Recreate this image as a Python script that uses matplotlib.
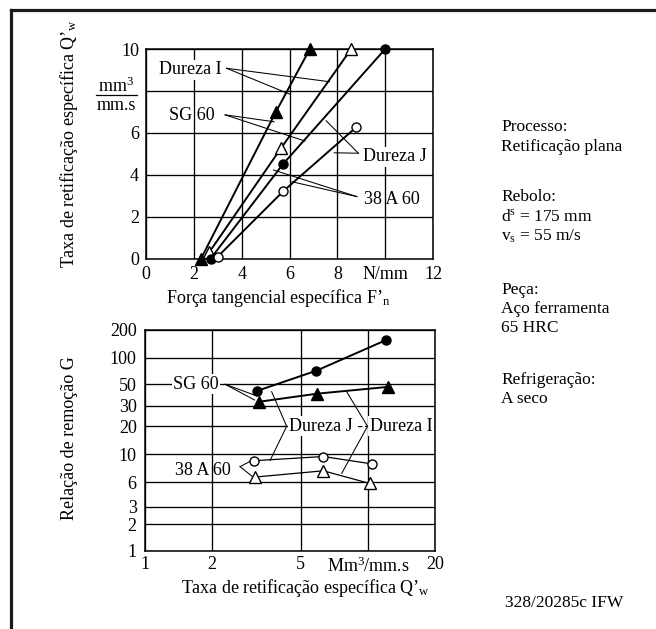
import numpy as np
import matplotlib
matplotlib.use("Agg")
import matplotlib.pyplot as plt
from matplotlib.lines import Line2D

plt.rcParams['font.family'] = ['Liberation Serif', 'DejaVu Serif']
plt.rcParams['mathtext.fontset'] = 'custom'
plt.rcParams['mathtext.rm'] = 'Liberation Serif'
plt.rcParams['mathtext.it'] = 'Liberation Serif:italic'
plt.rcParams['font.size'] = 13

# ---------------- data: top chart (Q'w vs F'n) ----------------
sg_I_F = [2.3, 5.43, 6.85]      # SG 60, Dureza I (filled triangles)
sg_I_Q = [0.0, 7.0, 10.0]
a38_I_F = [2.64, 5.65, 8.58]    # 38 A 60, Dureza I (open triangles)
a38_I_Q = [0.3, 5.28, 10.0]
sg_J_F = [2.7, 5.72, 10.0]      # SG 60, Dureza J (filled circles)
sg_J_Q = [0.0, 4.5, 10.0]
a38_J_F = [3.0, 5.74, 8.8]      # 38 A 60, Dureza J (open circles)
a38_J_Q = [0.1, 3.22, 6.28]

top_xticks = [0, 2, 4, 6, 8, 10, 12]
top_xlabels = ['0', '2', '4', '6', '8', 'N/mm', '12']
top_yticks = [0, 2, 4, 6, 8, 10]
top_ylabels = ['0', '2', '4', '6', '', '10']

# ---------------- data: bottom chart (G vs Q'w) ----------------
b_sg_J_Q = [3.17, 5.85, 12.1]   # SG 60, Dureza J (filled circles)
b_sg_J_G = [42.6, 71, 156]
b_sg_I_Q = [3.26, 5.93, 12.3]   # SG 60, Dureza I (filled triangles)
b_sg_I_G = [33, 40, 47]
b_a38_J_Q = [3.08, 6.31, 10.4]  # 38 A 60, Dureza J (open circles)
b_a38_J_G = [8.9, 9.6, 8.4]
b_a38_I_Q = [3.11, 6.31, 10.2]  # 38 A 60, Dureza I (open triangles)
b_a38_I_G = [6.6, 7.4, 5.8]

bot_xticks = [1, 2, 5, 10, 20]
bot_xlabels = ['1', '2', '5', 'Mm$^{\\mathregular{3}}$/mm.s', '20']
bot_yticks = [1, 2, 3, 6, 10, 20, 30, 50, 100, 200]
bot_ylabels = ['1', '2', '3', '6', '10', '20', '30', '50', '100', '200']
# printed (irregular) logarithmic axis: relative position of each grid value
bot_ygrid_pos = [0, 26.4, 44, 68.4, 96.4, 124.4, 145, 166.4, 193, 220.7]

W, H = 656, 629
fig = plt.figure(figsize=(W / 100, H / 100), dpi=100)


def px(x, y):
    return x / W, 1 - y / H


def rect(l, t, r, b):
    return [l / W, 1 - b / H, (r - l) / W, (b - t) / H]


LW_DATA = 1.4
LW_GRID = 0.95
LW_LEAD = 0.75

# ---------------- top axes ----------------
ax1 = fig.add_axes(rect(146, 49, 433, 258.7))
ax1.set_xlim(0, 12)
ax1.set_ylim(0, 10)
ax1.set_xticks(top_xticks)
ax1.set_xticklabels(top_xlabels)
ax1.set_yticks(top_yticks)
ax1.set_yticklabels(top_ylabels)
ax1.tick_params(length=0, pad=5, labelsize=13)
ax1.grid(True, color='black', lw=LW_GRID)
ax1.set_axisbelow(True)
for s in ax1.spines.values():
    s.set_linewidth(1.1)

ms_tri = 8.5
ms_cir = 6.5
ax1.plot(sg_I_F, sg_I_Q, '-^', color='black', lw=LW_DATA, ms=ms_tri, mfc='black', clip_on=False, zorder=5)
ax1.plot(a38_I_F, a38_I_Q, '-^', color='black', lw=LW_DATA, ms=ms_tri, mfc='white', clip_on=False, zorder=5)
ax1.plot(sg_J_F, sg_J_Q, '-o', color='black', lw=LW_DATA, ms=ms_cir, mfc='black', clip_on=False, zorder=5)
ax1.plot(a38_J_F, a38_J_Q, '-o', color='black', lw=LW_DATA, ms=ms_cir, mfc='white', clip_on=False, zorder=5)

wb = dict(facecolor='white', edgecolor='none', pad=1.0)
ax1.text(0.54, 9.0, 'Dureza I', va='center', ha='left', bbox=wb, zorder=4)
ax1.text(0.96, 6.85, 'SG 60', va='center', ha='left', zorder=4)
ax1.text(9.09, 4.86, 'Dureza J', va='center', ha='left', bbox=wb, zorder=4)
ax1.text(9.12, 2.8, '38 A 60', va='center', ha='left', zorder=4)

leads_top = [
    ((3.37, 9.08), (7.67, 8.44)), ((3.37, 9.08), (6.0, 7.85)),
    ((3.31, 6.86), (5.36, 6.53)), ((3.31, 6.86), (6.65, 5.61)),
    ((8.88, 5.03), (7.53, 6.58)), ((8.88, 5.03), (7.87, 5.05)),
    ((8.82, 2.96), (5.33, 4.23)), ((8.82, 2.96), (6.10, 3.67)),
]
for (a, b) in leads_top:
    ax1.plot([a[0], b[0]], [a[1], b[1]], color='black', lw=LW_LEAD, zorder=4)

# unit fraction at the y=8 position
fig.text(*px(116.5, 86), 'mm$^{\\mathregular{3}}$', ha='center', va='center')
fig.text(*px(116.5, 105), 'mm.s', ha='center', va='center')
fig.add_artist(Line2D([96 / W, 137 / W], [1 - 95 / H, 1 - 95 / H], color='black', lw=0.9))

fig.text(*px(278, 298), 'Força tangencial específica F’$_{\\mathregular{n}}$', ha='center', va='center')
fig.text(*px(69, 143), 'Taxa de retificação específica Q’$_{\\mathregular{w}}$',
         ha='center', va='center', rotation=90)

# ---------------- bottom axes ----------------
gl = np.log10(np.array(bot_yticks, dtype=float))
gp = np.array(bot_ygrid_pos, dtype=float)


def fwd(v):
    lv = np.log10(np.clip(np.asarray(v, dtype=float), 1e-6, None))
    return np.where(lv < gl[0], gp[0] + (lv - gl[0]) * 88,
                    np.where(lv > gl[-1], gp[-1] + (lv - gl[-1]) * 92,
                             np.interp(lv, gl, gp)))


def inv(p):
    p = np.asarray(p, dtype=float)
    lv = np.where(p < gp[0], gl[0] + (p - gp[0]) / 88,
                  np.where(p > gp[-1], gl[-1] + (p - gp[-1]) / 92, np.interp(p, gp, gl)))
    return 10 ** lv


ax2 = fig.add_axes(rect(145, 330, 435, 550.7))
ax2.set_xscale('log')
ax2.set_yscale('function', functions=(fwd, inv))
ax2.set_xlim(1, 20)
ax2.set_ylim(1, 200)
ax2.set_xticks(bot_xticks)
ax2.set_xticklabels(bot_xlabels)
ax2.xaxis.set_minor_locator(matplotlib.ticker.NullLocator())
ax2.set_yticks(bot_yticks)
ax2.set_yticklabels(bot_ylabels)
ax2.yaxis.set_minor_locator(matplotlib.ticker.NullLocator())
ax2.tick_params(axis='y', length=0, pad=6, labelsize=13)
ax2.tick_params(axis='x', length=0, pad=4, labelsize=13)
ax2.grid(True, color='black', lw=LW_GRID)
ax2.set_axisbelow(True)
for s in ax2.spines.values():
    s.set_linewidth(1.1)

ax2.plot(b_sg_J_Q, b_sg_J_G, '-o', color='black', lw=LW_DATA, ms=ms_cir, mfc='black', clip_on=False, zorder=5)
ax2.plot(b_sg_I_Q, b_sg_I_G, '-^', color='black', lw=LW_DATA, ms=ms_tri, mfc='black', clip_on=False, zorder=5)
ax2.plot(b_a38_J_Q, b_a38_J_G, '-o', color='black', lw=0.9, ms=ms_cir, mfc='white', clip_on=False, zorder=5)
ax2.plot(b_a38_I_Q, b_a38_I_G, '-^', color='black', lw=0.9, ms=ms_tri, mfc='white', clip_on=False, zorder=5)

ax2.text(1.335, 50, 'SG 60', va='center', ha='left', bbox=wb, zorder=4)
ax2.text(4.43, 20, 'Dureza J -', va='center', ha='left', bbox=wb, zorder=4)
ax2.text(10.2, 20, 'Dureza I', va='center', ha='left', bbox=wb, zorder=4, clip_on=True)
ax2.text(1.363, 7.5, '38 A 60', va='center', ha='left', zorder=4)

leads_bot = [
    ((2.29, 50), (3.17, 37.9)), ((2.29, 50), (3.10, 34.4)),
    ((4.32, 20), (3.70, 41.9)), ((4.32, 20), (3.64, 8.93)),
    ((9.96, 20), (8.03, 41.9)), ((9.96, 20), (7.63, 7.07)),
    ((2.67, 7.98), (3.0, 8.9)), ((2.67, 7.98), (3.02, 6.7)),
]
for (a, b) in leads_bot:
    ax2.plot([a[0], b[0]], [a[1], b[1]], color='black', lw=LW_LEAD, zorder=4)

fig.text(*px(69, 438), 'Relação de remoção G', ha='center', va='center', rotation=90)
fig.text(*px(306, 588), 'Taxa de retificação específica Q’$_{\\mathregular{w}}$', ha='center', va='center')

# ---------------- side notes ----------------
notes = [
    (127, 'Processo:'), (147, 'Retificação plana'),
    (197, 'Rebolo:'), (217, 'd$^{\\mathregular{s}}$ = 175 mm'), (236, 'v$_{\\mathregular{s}}$ = 55 m/s'),
    (290, 'Peça:'), (309, 'Aço ferramenta'), (328, '65 HRC'),
    (380, 'Refrigeração:'), (399, 'A seco'),
]
for y, t in notes:
    fig.text(*px(501, y), t, ha='left', va='center', fontsize=12.5)
fig.text(*px(505, 603), '328/20285c IFW', ha='left', va='center', fontsize=12.5)

# frame (top and left edges)
fig.add_artist(Line2D([10.5 / W, 1], [1 - 9.5 / H, 1 - 9.5 / H], color='#1a1a1a', lw=2.3))
fig.add_artist(Line2D([10.5 / W, 10.5 / W], [0, 1 - 9.5 / H], color='#1a1a1a', lw=2.3))

fig.savefig('out.png', dpi=100)
